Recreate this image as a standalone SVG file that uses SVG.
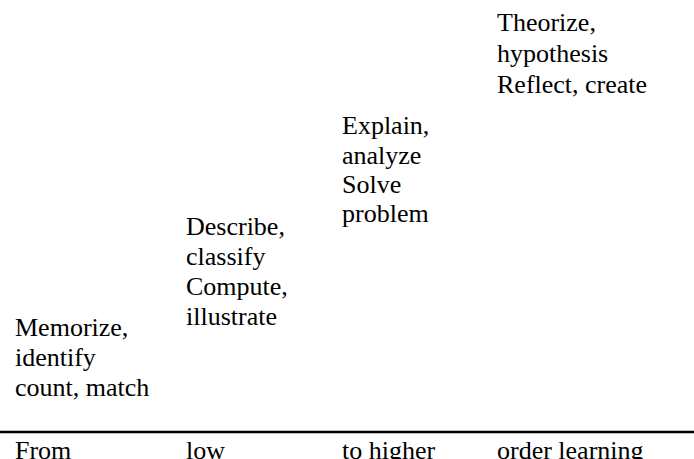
<svg xmlns="http://www.w3.org/2000/svg" width="694" height="459" viewBox="0 0 694 459">
<style>
text{font-family:"Liberation Serif","Times New Roman",serif;font-size:26px;fill:#000}
</style>
<rect width="694" height="459" fill="#fff"/>
<g id="col1"><text x="15" y="336">Memorize,</text><text x="15" y="366">identify</text><text x="15" y="396">count, match</text></g>
<g id="col2"><text x="186" y="235">Describe,</text><text x="186" y="265">classify</text><text x="186" y="295">Compute,</text><text x="186" y="325">illustrate</text></g>
<g id="col3"><text x="342" y="134">Explain,</text><text x="342" y="164">analyze</text><text x="342" y="193">Solve</text><text x="342" y="222">problem</text></g>
<g id="col4"><text x="497" y="31">Theorize,</text><text x="497" y="62">hypothesis</text><text x="497" y="93">Reflect, create</text></g>
<g id="connectors"><line x1="0" y1="432" x2="694" y2="432" stroke="#000" stroke-width="2.5"/></g>
<g id="axis"><text x="15" y="459">From</text><text x="186" y="459">low</text><text x="342" y="459">to higher</text><text x="497" y="459">order learning</text></g>
</svg>
